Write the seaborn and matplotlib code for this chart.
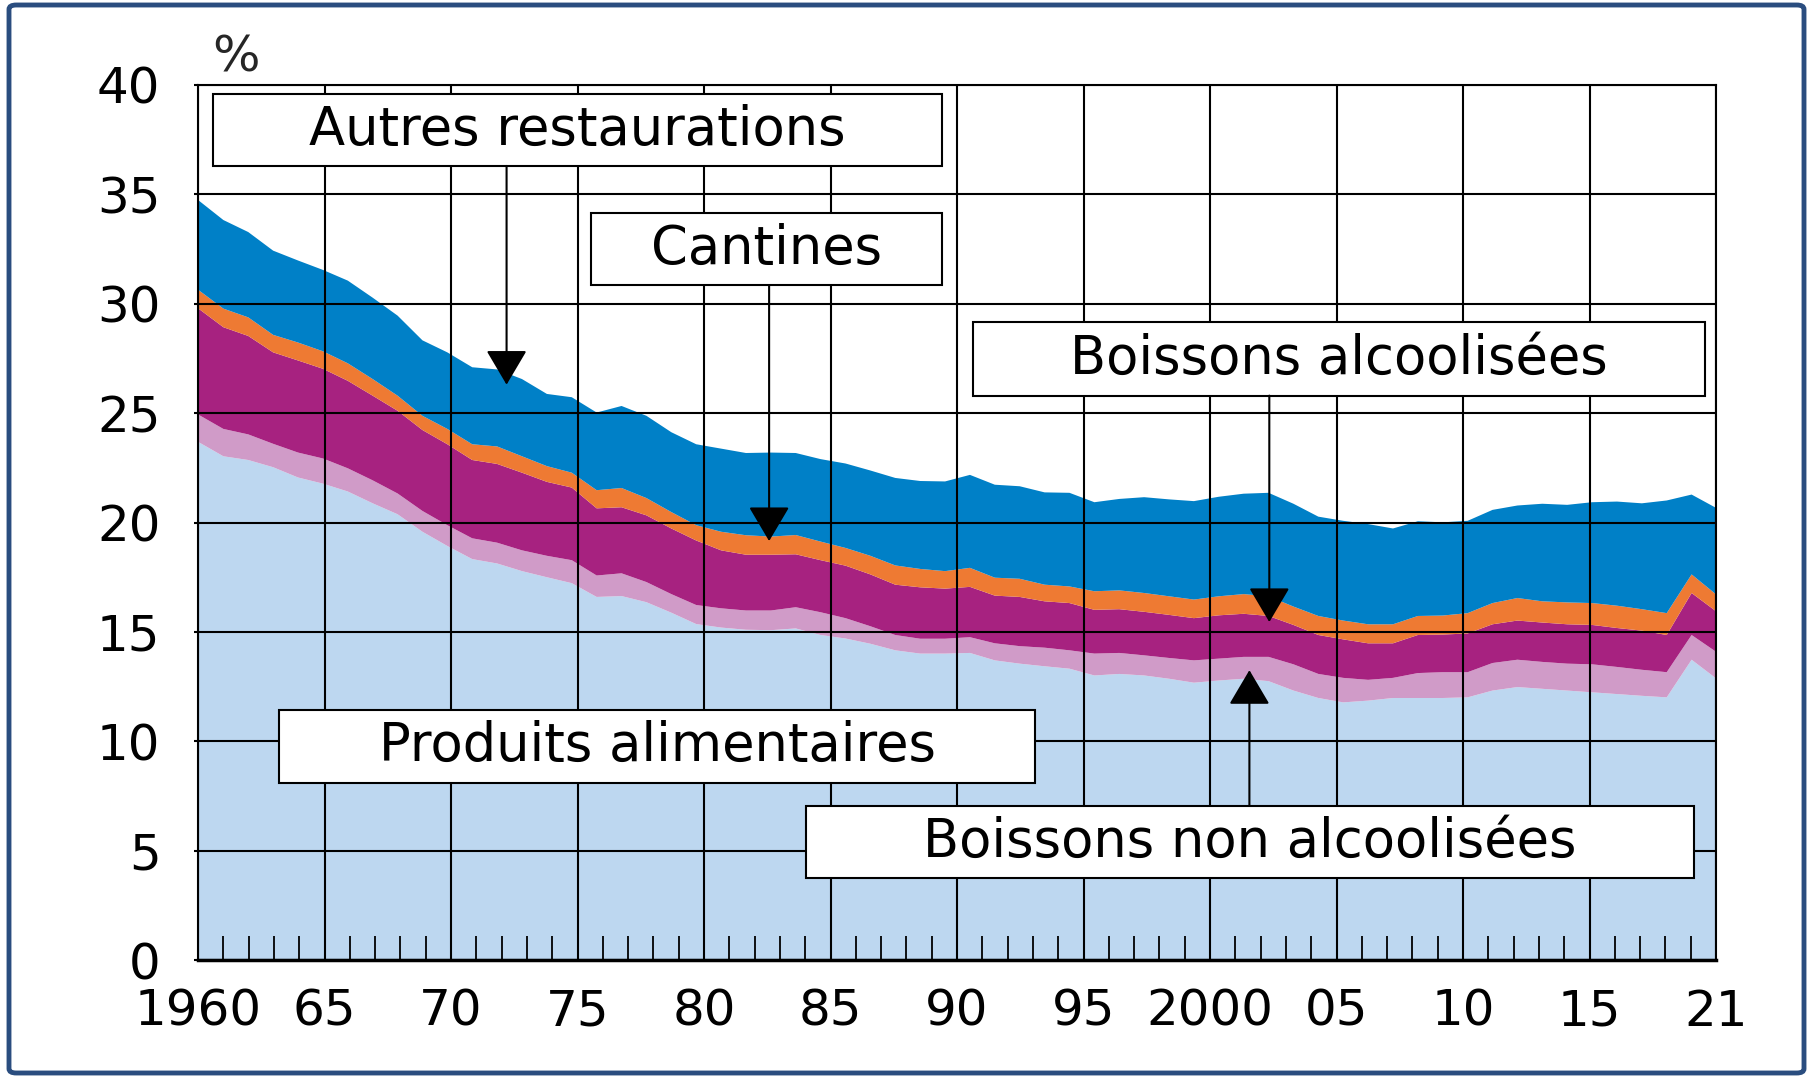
import numpy as np
import matplotlib
matplotlib.use("Agg")
import matplotlib.pyplot as plt
import seaborn as sns
from matplotlib.patches import Rectangle, FancyBboxPatch

# Part des dépenses alimentaires dans la consommation (en %), 1960-2021
years = list(range(1960, 2022))

produits_alimentaires = [
    23.70, 23.05, 22.88, 22.55, 22.08, 21.80, 21.44, 20.90, 20.40, 19.60,
    18.95, 18.35, 18.15, 17.80, 17.52, 17.25, 16.62, 16.66, 16.38, 15.90,
    15.38, 15.22, 15.12, 15.10, 15.18, 14.88, 14.72, 14.48, 14.18, 14.03,
    14.03, 14.06, 13.72, 13.57, 13.45, 13.34, 13.03, 13.10, 13.03, 12.88,
    12.70, 12.80, 12.88, 12.77, 12.34, 12.00, 11.80, 11.88, 12.00, 12.00,
    12.00, 12.03, 12.34, 12.50, 12.42, 12.34, 12.26, 12.18, 12.10, 12.03,
    13.75, 12.88,
]
boissons_non_alc = [
    1.25, 1.25, 1.17, 1.07, 1.14, 1.15, 1.06, 1.05, 0.95, 0.95,
    0.95, 0.95, 0.95, 0.95, 0.98, 1.05, 0.98, 1.04, 0.92, 0.85,
    0.87, 0.88, 0.88, 0.90, 0.97, 1.04, 0.93, 0.80, 0.70, 0.68,
    0.68, 0.72, 0.78, 0.80, 0.85, 0.84, 1.00, 0.96, 0.92, 0.95,
    1.02, 1.00, 1.00, 1.11, 1.20, 1.10, 1.12, 0.95, 0.92, 1.14,
    1.18, 1.15, 1.26, 1.25, 1.23, 1.23, 1.28, 1.24, 1.19, 1.15,
    1.13, 1.22,
]
boissons_alc = [
    4.85, 4.65, 4.50, 4.18, 4.21, 4.10, 4.00, 3.87, 3.78, 3.70,
    3.70, 3.58, 3.60, 3.55, 3.38, 3.32, 3.07, 3.02, 3.05, 3.00,
    2.95, 2.65, 2.55, 2.55, 2.42, 2.38, 2.40, 2.37, 2.30, 2.35,
    2.29, 2.30, 2.18, 2.25, 2.12, 2.16, 2.00, 2.00, 1.99, 1.97,
    1.93, 1.98, 1.97, 1.87, 1.80, 1.78, 1.76, 1.67, 1.58, 1.74,
    1.72, 1.77, 1.77, 1.79, 1.80, 1.80, 1.80, 1.78, 1.79, 1.70,
    1.92, 1.85,
]
cantines = [
    0.85, 0.85, 0.85, 0.80, 0.82, 0.80, 0.80, 0.76, 0.69, 0.65,
    0.70, 0.72, 0.80, 0.75, 0.72, 0.68, 0.83, 0.88, 0.79, 0.75,
    0.70, 0.85, 0.89, 0.83, 0.88, 0.85, 0.81, 0.85, 0.88, 0.84,
    0.80, 0.87, 0.82, 0.83, 0.76, 0.76, 0.85, 0.86, 0.86, 0.85,
    0.85, 0.87, 0.90, 0.90, 0.84, 0.87, 0.86, 0.87, 0.87, 0.87,
    0.87, 0.93, 0.97, 1.03, 0.97, 1.00, 1.00, 1.02, 0.98, 1.00,
    0.85, 0.77,
]
autres_restaurations = [
    4.10, 4.05, 3.90, 3.85, 3.75, 3.72, 3.78, 3.72, 3.66, 3.45,
    3.50, 3.52, 3.52, 3.53, 3.30, 3.45, 3.55, 3.75, 3.76, 3.65,
    3.70, 3.80, 3.76, 3.84, 3.75, 3.77, 3.86, 3.90, 4.00, 4.02,
    4.10, 4.25, 4.25, 4.23, 4.22, 4.28, 4.07, 4.18, 4.38, 4.43,
    4.50, 4.55, 4.59, 4.73, 4.70, 4.54, 4.56, 4.58, 4.38, 4.33,
    4.26, 4.22, 4.26, 4.23, 4.46, 4.46, 4.61, 4.76, 4.84, 5.15,
    3.65, 3.96,
]

x_tick_labels = ["1960", "65", "70", "75", "80", "85", "90", "95",
                 "2000", "05", "10", "15", "21"]

colors = ["#BDD7F0", "#D09BC8", "#A72280", "#EE7A33", "#0080C7"]

sns.set_theme(style="white")
plt.rcParams['font.family'] = ['DejaVu Sans']

W, H = 1812, 1076
fig = plt.figure(figsize=(W / 100, H / 100), dpi=100)
ax_left, ax_right, ax_top, ax_bottom = 198, 1716, 85, 960
ax = fig.add_axes([ax_left / W, 1 - ax_bottom / H,
                   (ax_right - ax_left) / W, (ax_bottom - ax_top) / H])

ax.stackplot(years, produits_alimentaires, boissons_non_alc, boissons_alc,
             cantines, autres_restaurations, colors=colors, linewidth=0)

ax.set_xlim(1960, 2021)
ax.set_ylim(0, 40)

# axe des années : 12 intervalles égaux, graduations secondaires
ax.set_xticks(np.linspace(1960, 2021, 13))
ax.set_xticklabels(x_tick_labels)
ax.set_xticks(np.linspace(1960, 2021, 61), minor=True)
ax.set_yticks(range(0, 41, 5))

ax.grid(which="major", color="black", linewidth=1.5)
ax.set_axisbelow(False)

ax.tick_params(axis="x", which="major", length=0, pad=20, labelsize=36,
               colors="black")
ax.tick_params(axis="x", which="minor", direction="in", length=17,
               width=1.3, color="black", bottom=True)
ax.tick_params(axis="y", which="major", direction="out", length=3,
               width=1.5, pad=24, labelsize=36, colors="black", left=True)

for side, sp in ax.spines.items():
    sp.set_color("black")
    sp.set_linewidth(1.5)
ax.spines["bottom"].set_linewidth(2.5)

fig.text(236 / W, 1 - 57 / H, "%", fontsize=36, ha="center", va="center")

# cadres des étiquettes (x0, x1, y_bas, y_haut en coordonnées des données)
boxes = [
    ("Autres restaurations", 1960.6, 1989.9, 36.3, 39.6),
    ("Cantines", 1975.8, 1989.9, 30.85, 34.15),
    ("Boissons alcoolisées", 1991.15, 2020.55, 25.8, 29.15),
    ("Produits alimentaires", 1963.25, 1993.65, 8.1, 11.45),
    ("Boissons non alcoolisées", 1984.45, 2020.1, 3.75, 7.05),
]
for label, x0, x1, y0, y1 in boxes:
    ax.add_patch(Rectangle((x0, y0), x1 - x0, y1 - y0, facecolor="white",
                           edgecolor="black", linewidth=1.5, zorder=3))
    ax.text((x0 + x1) / 2, (y0 + y1) / 2, label, fontsize=38,
            ha="center", va="center", color="black", zorder=4)

# flèches (x, départ, pointe)
arrows = [
    (1972.4, 36.3, 26.3),
    (1982.95, 30.85, 19.15),
    (2003.05, 25.8, 15.45),
    (2002.25, 7.05, 13.25),
]
for xa, ys, ye in arrows:
    ax.annotate("", xy=(xa, ye), xytext=(xa, ys),
                arrowprops=dict(arrowstyle="-|>,head_length=1.1,head_width=0.65",
                                mutation_scale=20, color="black", lw=1.5,
                                shrinkA=0, shrinkB=0),
                zorder=5)

# cadre bleu autour de la figure
fig.patches.append(FancyBboxPatch((9 / W, 3 / H), 1795 / W, 1068 / H,
                                  boxstyle="round,pad=0,rounding_size=0.004",
                                  transform=fig.transFigure, fill=False,
                                  edgecolor="#2A4D7F", linewidth=3.5))

fig.savefig("out.png", dpi=100)
